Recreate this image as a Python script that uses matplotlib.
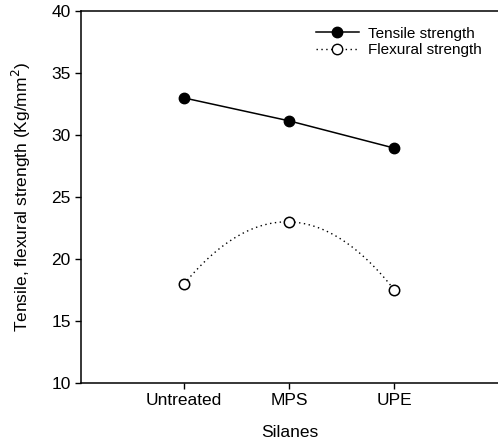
import numpy as np
import matplotlib.pyplot as plt

plt.rcParams['font.family'] = ['Liberation Sans', 'DejaVu Sans']

silanes = ["Untreated", "MPS", "UPE"]
tensile = [33.0, 31.15, 28.95]
flexural = [18.0, 23.0, 17.5]

x = np.arange(len(silanes))

fig = plt.figure(figsize=(4.98, 4.48), dpi=100)
ax = fig.add_axes([0.163, 0.145, 0.836, 0.83])

ax.plot(x, tensile, 'o-', color='black', lw=1.1, ms=7.5,
        label="Tensile strength")

# smooth dotted curve through the flexural points
coef = np.polyfit(x, flexural, 2)
xs = np.linspace(x[0], x[-1], 100)
ax.plot(xs, np.polyval(coef, xs), color='black', lw=1.0, dashes=(1, 2.5))
ax.plot(x, flexural, 'o', mfc='white', mec='black', ms=7.5, mew=1.1)
ax.plot([], [], 'o', ls=(0, (1, 2.5)), color='black', mfc='white', mec='black',
        ms=7.5, lw=1.0, label="Flexural strength")

ax.set_xlim(-0.98, 2.98)
ax.set_ylim(10, 40)
ax.set_yticks([10, 15, 20, 25, 30, 35, 40])
ax.set_xticks(x)
ax.set_xticklabels(silanes)
ax.tick_params(direction='out', length=4, width=1, labelsize=12.5)
ax.spines['right'].set_visible(False)
for s in ['left', 'bottom', 'top']:
    ax.spines[s].set_linewidth(1.1)

ax.set_xlabel("Silanes", fontsize=12.5, labelpad=12)
ax.set_ylabel("Tensile, flexural strength (Kg/mm$^2$)", fontsize=12.5, labelpad=13)

ax.legend(loc='upper right', bbox_to_anchor=(0.995, 0.995), frameon=False,
          fontsize=11, handlelength=2.8, handletextpad=0.6,
          labelspacing=0.15)

fig.savefig("out.png", dpi=100)
